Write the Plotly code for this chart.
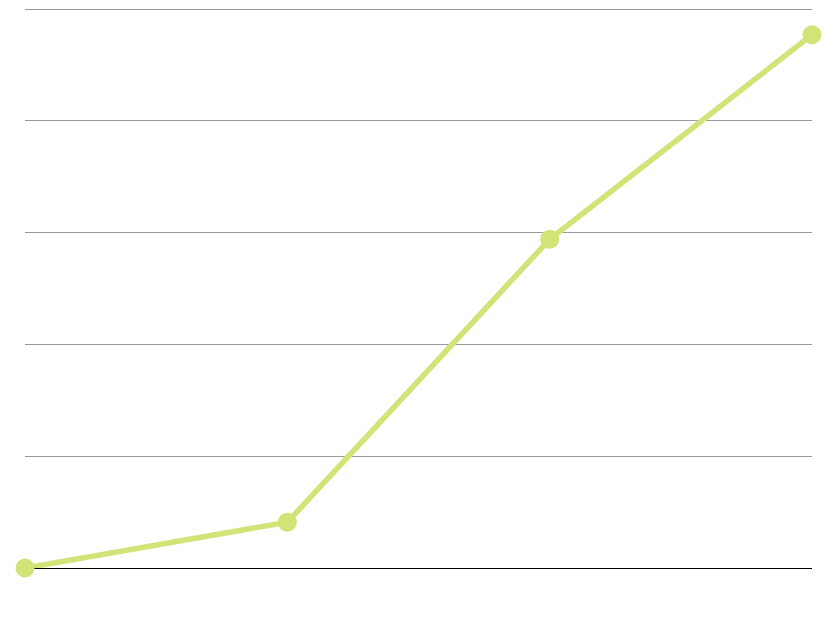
import plotly.graph_objects as go

categories = ["A", "B", "C", "D"]
values = [0, 41, 294, 477]
tick_vals = [0, 100, 200, 300, 400, 500]

fig = go.Figure()
fig.add_trace(go.Scatter(
    x=categories, y=values, mode="lines+markers",
    line=dict(color="#d3e378", width=5.5),
    marker=dict(color="#d3e378", size=19),
    cliponaxis=False, showlegend=False,
))
fig.update_layout(
    width=834, height=644,
    margin=dict(l=17, r=30, t=0, b=84),
    plot_bgcolor="white", paper_bgcolor="white",
    xaxis=dict(showgrid=False, showticklabels=False, zeroline=False, showline=False,
               range=[0, 3]),
    yaxis=dict(range=[0, 500.9], tickvals=tick_vals, showticklabels=False,
               gridcolor="#9a9a9a", gridwidth=1, zeroline=True, zerolinecolor="#000000",
               zerolinewidth=1, showline=False),
)
fig.write_html("out.html")
